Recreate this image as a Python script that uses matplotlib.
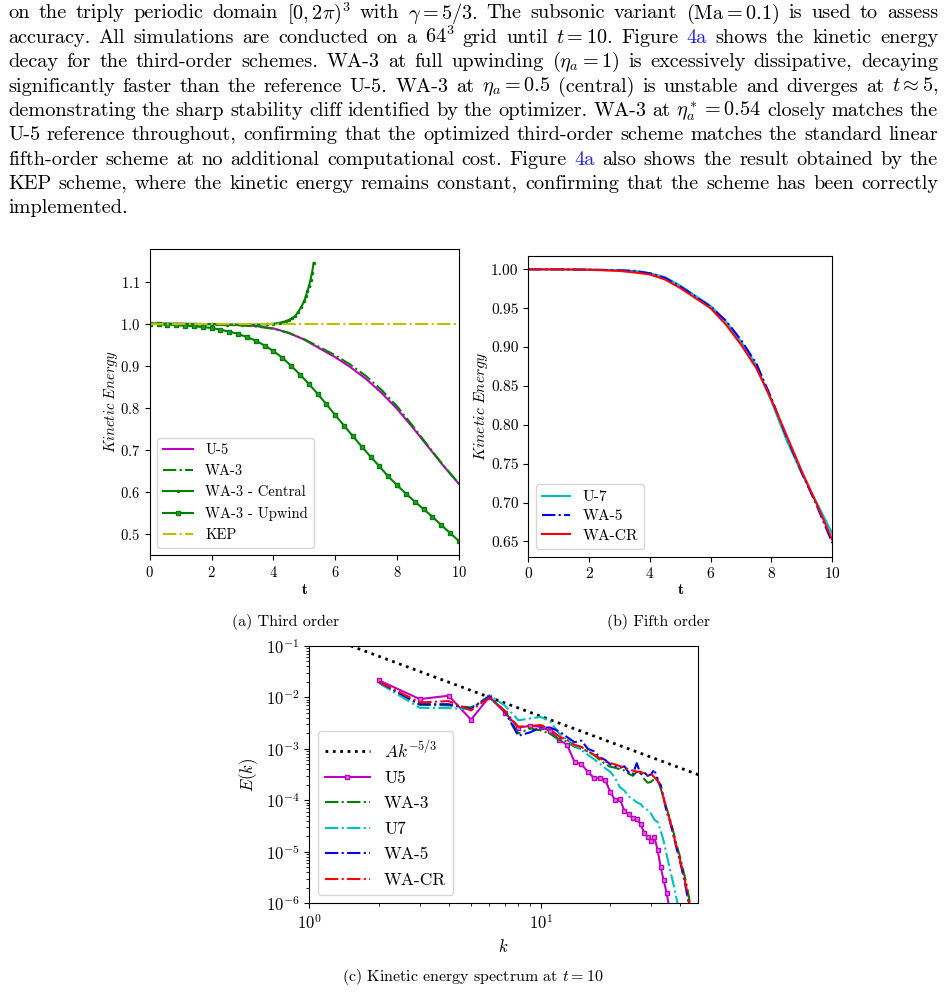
import numpy as np
import matplotlib
matplotlib.use("Agg")
import matplotlib.pyplot as plt

plt.rcParams['font.family'] = 'serif'
plt.rcParams['font.serif'] = ['cmr10']
plt.rcParams['mathtext.fontset'] = 'cm'
plt.rcParams['axes.unicode_minus'] = False
plt.rcParams['axes.formatter.use_mathtext'] = True

# ---- (a) third order, kinetic energy vs t
t_u5 = [0, 1, 2, 3, 3.5, 4, 4.5, 5, 5.5, 6, 6.5, 7, 7.5, 8, 8.5, 9, 9.5, 10]
ke_u5 = [1.0, 1.0, 0.999, 0.997, 0.994, 0.989, 0.978, 0.962, 0.941, 0.920,
         0.896, 0.868, 0.835, 0.797, 0.753, 0.707, 0.661, 0.618]
ke_wa3 = [1.0, 0.999, 0.998, 0.996, 0.993, 0.988, 0.978, 0.963, 0.944, 0.925,
          0.902, 0.875, 0.842, 0.803, 0.757, 0.709, 0.662, 0.619]

t_central = [0, 0.5, 1, 1.5, 2, 2.5, 3, 3.5, 3.8, 4.0, 4.2, 4.3, 4.4, 4.5, 4.6,
             4.7, 4.8, 4.9, 5.0, 5.05, 5.1, 5.15, 5.2, 5.25, 5.3]
ke_central = [1.0, 1.0, 0.9998, 0.9995, 0.999, 0.998, 0.998, 0.998, 0.999, 1.0,
              1.002, 1.004, 1.006, 1.009, 1.013, 1.018, 1.028, 1.040, 1.055,
              1.066, 1.078, 1.090, 1.105, 1.122, 1.145]

t_upwind = [0, 0.286, 0.571, 0.857, 1.143, 1.429, 1.714, 2.0, 2.286, 2.571,
            2.857, 3.143, 3.429, 3.714, 4.0, 4.286, 4.571, 4.857, 5.143, 5.429,
            5.714, 6.0, 6.286, 6.571, 6.857, 7.143, 7.429, 7.714, 8.0, 8.286,
            8.571, 8.857, 9.143, 9.429, 9.714, 10.0]
ke_upwind = [1.0, 0.9995, 0.998, 0.997, 0.995, 0.994, 0.992, 0.990, 0.986, 0.981,
             0.976, 0.968, 0.960, 0.948, 0.935, 0.919, 0.900, 0.879, 0.857, 0.833,
             0.808, 0.782, 0.757, 0.732, 0.707, 0.683, 0.660, 0.636, 0.615, 0.595,
             0.576, 0.558, 0.540, 0.520, 0.501, 0.482]

t_kep = [0, 10]
ke_kep = [1.0, 1.0]

# ---- (b) fifth order
t_b = [0, 1, 2, 3, 3.5, 4, 4.5, 5, 5.5, 6, 6.5, 7, 7.5, 8, 8.5, 9, 9.5, 10]
ke_u7 = [1.0, 1.0, 0.9997, 0.9988, 0.998, 0.995, 0.990, 0.979, 0.966, 0.953,
         0.933, 0.907, 0.877, 0.830, 0.780, 0.737, 0.699, 0.660]
ke_wa5 = [1.0, 1.0, 0.9997, 0.9988, 0.998, 0.995, 0.989, 0.978, 0.965, 0.952,
          0.934, 0.909, 0.879, 0.834, 0.784, 0.738, 0.695, 0.648]
ke_wacr = [1.0, 1.0, 0.9995, 0.998, 0.996, 0.9935, 0.987, 0.976, 0.963, 0.950,
           0.929, 0.903, 0.873, 0.832, 0.786, 0.740, 0.697, 0.652]

# ---- (c) spectrum at t = 10
k = np.arange(2, 46)
E_u5 = [2.15e-2, 9.3e-3, 1.08e-2, 3.7e-3, 1.03e-2, 5.1e-3, 2.6e-3, 2.8e-3, 2.7e-3,
        2.2e-3, 1.5e-3, 1.2e-3, 5.6e-4, 5.0e-4, 3.6e-4, 2.7e-4, 2.7e-4, 2.5e-4,
        1.45e-4, 1.0e-4, 1.05e-4, 6.3e-5, 5.4e-5, 4.5e-5, 4.3e-5, 3.5e-5, 2.35e-5,
        1.95e-5, 1.65e-5, 1.9e-5, 1.1e-5, 5.0e-6, 2.8e-6, 1.6e-6, 8e-7]
E_wa3 = [1.95e-2, 7.2e-3, 7.0e-3, 6.4e-3, 1.0e-2, 5.5e-3, 2.0e-3, 2.5e-3, 2.3e-3,
         1.95e-3, 1.5e-3, 1.4e-3, 1.1e-3, 1.0e-3, 9e-4, 7.7e-4, 6.1e-4, 5.1e-4,
         4.5e-4, 4.3e-4, 4.0e-4, 3.8e-4, 3.3e-4, 3.0e-4, 3.6e-4, 3.5e-4, 2.6e-4,
         2.2e-4, 2.3e-4, 2.6e-4, 2.7e-4, 1.7e-4, 1.1e-4, 7e-5, 4.8e-5, 3e-5, 1.9e-5,
         1.2e-5, 8e-6, 5e-6, 3.2e-6, 2e-6, 1.1e-6, 6e-7]
E_u7 = [1.9e-2, 6.3e-3, 6.2e-3, 5.9e-3, 1.1e-2, 7.0e-3, 3.6e-3, 3.9e-3, 4.2e-3,
        3.4e-3, 2.0e-3, 1.5e-3, 1.15e-3, 9.5e-4, 7.7e-4, 6.3e-4, 5.2e-4, 4.2e-4,
        3.6e-4, 2.7e-4, 1.8e-4, 1.55e-4, 1.2e-4, 1.05e-4, 9.2e-5, 8.5e-5, 7e-5,
        6.5e-5, 5.5e-5, 4.2e-5, 3.8e-5, 2.6e-5, 1.6e-5, 9e-6, 5e-6, 3e-6, 1.8e-6,
        1.0e-6, 5e-7]
E_wa5 = [2.0e-2, 7.4e-3, 7.4e-3, 6.0e-3, 1.05e-2, 5.3e-3, 1.8e-3, 2.1e-3, 2.6e-3,
         2.6e-3, 2.2e-3, 1.7e-3, 1.35e-3, 1.45e-3, 1.0e-3, 9e-4, 6.9e-4, 6.1e-4,
         5.0e-4, 4.6e-4, 4.3e-4, 4.6e-4, 3.5e-4, 3.2e-4, 5.3e-4, 3.3e-4, 3.5e-4,
         3.0e-4, 3.2e-4, 4.0e-4, 2.4e-4, 2.0e-4, 1.1e-4, 6e-5, 4.2e-5, 2.6e-5,
         1.6e-5, 1.0e-5, 6.5e-6, 4e-6, 2.5e-6, 1.4e-6, 8e-7]
E_wacr = [2.0e-2, 8.0e-3, 8.5e-3, 5.6e-3, 1.0e-2, 5.4e-3, 2.7e-3, 2.8e-3, 2.9e-3,
          2.4e-3, 1.75e-3, 1.5e-3, 1.2e-3, 1.1e-3, 8.8e-4, 7.7e-4, 6.6e-4, 5.7e-4,
          5.3e-4, 5.0e-4, 4.6e-4, 4.4e-4, 4.0e-4, 3.8e-4, 3.6e-4, 3.6e-4, 3.3e-4,
          3.0e-4, 3.3e-4, 2.8e-4, 2.4e-4, 1.8e-4, 1.1e-4, 6.5e-5, 4.5e-5, 2.8e-5,
          1.7e-5, 1.1e-5, 7e-6, 4.5e-6, 2.8e-6, 1.6e-6, 9e-7]
A_ref = 0.2
k_ref = np.array([1.0, 48.0])

paragraph = [
    ["on the triply periodic domain $[0,2\\pi)^3$ with $\\gamma=5/3$. The subsonic variant $(\\mathrm{Ma}=0.1)$ is used to assess"],
    ["accuracy. All simulations are conducted on a $64^3$ grid until $t=10$. Figure", "#4a", "shows the kinetic energy"],
    ["decay for the third-order schemes. WA-3 at full upwinding ($\\eta_a=1$) is excessively dissipative, decaying"],
    ["significantly faster than the reference U-5. WA-3 at $\\eta_a=0.5$ (central) is unstable and diverges at $t\\approx5$,"],
    ["demonstrating the sharp stability cliff identified by the optimizer. WA-3 at $\\eta_a^*=0.54$ closely matches the"],
    ["U-5 reference throughout, confirming that the optimized third-order scheme matches the standard linear"],
    ["fifth-order scheme at no additional computational cost. Figure", "#4a", "also shows the result obtained by the"],
    ["KEP scheme, where the kinetic energy remains constant, confirming that the scheme has been correctly"],
    ["implemented."],
]

W, H = 944, 1007
fig = plt.figure(figsize=(W / 100, H / 100), dpi=100)

# paragraph, justified word by word
renderer = fig.canvas.get_renderer()
FS = 14.6
x_left, x_right = 8, 938
for i, parts in enumerate(paragraph):
    words = []
    for p in parts:
        if p.startswith("#"):
            words.append((p[1:], "#1f1fe6"))
        else:
            words += [(w, "black") for w in p.split(" ")]
    yb = 1 - (18.5 + i * 24.35) / H
    txts = [fig.text(0, yb, w, color=c, fontsize=FS, va='baseline') for w, c in words]
    widths = [tx.get_window_extent(renderer).width for tx in txts]
    if i == len(paragraph) - 1:
        gap = 6.5
    else:
        gap = (x_right - x_left - sum(widths)) / (len(txts) - 1)
    x = x_left
    for tx, w in zip(txts, widths):
        tx.set_x(x / W)
        x += w + gap

TS = 10.5
# ---- (a)
ax1 = fig.add_axes([149.7 / W, 1 - 555 / H, 309.3 / W, 306 / H])
ax1.plot(t_u5, ke_u5, color="m", linestyle="-", label="U-5")
ax1.plot(t_u5, ke_wa3, color="g", linestyle="-.", label="WA-3")
ax1.plot(t_central, ke_central, color="g", linestyle="-", marker=".", markersize=3, label="WA-3 - Central")
ax1.plot(t_upwind, ke_upwind, color="g", linestyle="-", marker="s", markersize=2.5,
         markerfacecolor=(0.2, 0.6, 0.2), label="WA-3 - Upwind")
ax1.plot(t_kep, ke_kep, color="y", linestyle="-.", label="KEP")
ax1.set_xlim(0, 10)
ax1.set_xticks([0, 2, 4, 6, 8, 10])
ax1.set_yticks([0.5, 0.6, 0.7, 0.8, 0.9, 1.0, 1.1])
ax1.tick_params(labelsize=TS)
ax1.set_xlabel(r"$\mathbf{t}$", fontsize=TS, labelpad=2)
ax1.set_ylabel(r"$Kinetic\ Energy$", fontsize=TS, labelpad=0)
ax1.legend(loc="lower left", fontsize=TS, handlelength=2.1)

# ---- (b)
TB = 11.2
ax2 = fig.add_axes([528.3 / W, 1 - 556.7 / H, 304 / W, 301 / H])
ax2.plot(t_b, ke_u7, color="c", linestyle="-", label="U-7")
ax2.plot(t_b, ke_wa5, color="b", linestyle="-.", label="WA-5")
ax2.plot(t_b, ke_wacr, color="r", linestyle="-", label="WA-CR")
ax2.set_xlim(0, 10)
ax2.set_xticks([0, 2, 4, 6, 8, 10])
ax2.set_yticks([0.65, 0.70, 0.75, 0.80, 0.85, 0.90, 0.95, 1.00])
ax2.yaxis.set_major_formatter(matplotlib.ticker.FormatStrFormatter("%.2f"))
ax2.tick_params(labelsize=TB)
ax2.set_xlabel(r"$\mathbf{t}$", fontsize=TB, labelpad=1)
ax2.set_ylabel(r"$Kinetic\ Energy$", fontsize=TB, labelpad=1)
ax2.legend(loc="lower left", fontsize=TB, handlelength=1.8, labelspacing=0.35)

# ---- (c)
ax3 = fig.add_axes([309.3 / W, 1 - 903.3 / H, 388.4 / W, 257.3 / H])
ax3.plot(k_ref, A_ref * k_ref ** (-5 / 3), color="k", linestyle=":", linewidth=2, label=r"$Ak^{-5/3}$")
ax3.plot(k[:len(E_u5)], E_u5, color="m", linestyle="-", marker="s", markersize=3,
         markerfacecolor=(0.85, 0.45, 0.85), label="U5")
ax3.plot(k[:len(E_wa3)], E_wa3, color="g", linestyle="-.", label="WA-3")
ax3.plot(k[:len(E_u7)], E_u7, color="c", linestyle="-.", label="U7")
ax3.plot(k[:len(E_wa5)], E_wa5, color="b", linestyle="-.", label="WA-5")
ax3.plot(k[:len(E_wacr)], E_wacr, color="r", linestyle="-.", label="WA-CR")
ax3.set_xscale("log")
ax3.set_yscale("log")
ax3.set_xlim(1, 47.7)
ax3.set_ylim(1e-6, 1e-1)
ax3.tick_params(labelsize=12)
ax3.set_xlabel(r"$k$", fontsize=12)
ax3.set_ylabel(r"$E(k)$", fontsize=12)
ax3.legend(loc="lower left", fontsize=12.5, handlelength=2.6, labelspacing=0.58)

# captions
CS = 11.5
fig.text(286 / W, 1 - 622 / H, "(a) Third order", ha="center", va="center", fontsize=CS)
fig.text(659 / W, 1 - 622 / H, "(b) Fifth order", ha="center", va="center", fontsize=CS)
fig.text(473 / W, 1 - 977 / H, "(c) Kinetic energy spectrum at $t=10$", ha="center", va="center", fontsize=CS)

fig.savefig("out.png", dpi=100)
